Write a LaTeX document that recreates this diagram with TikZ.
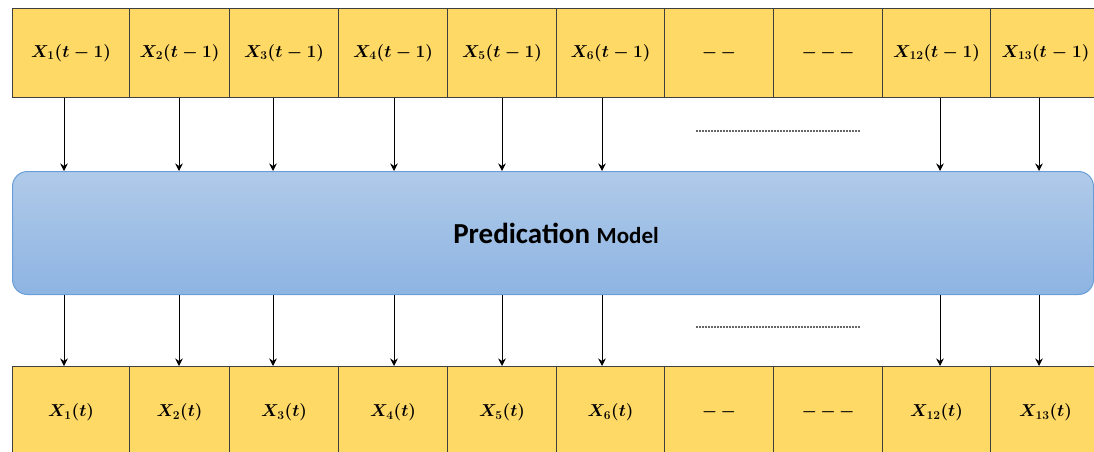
\documentclass[tikz,border=0pt]{standalone}
\usepackage{fontspec}
\newfontfamily\carlito{Carlito}
\usetikzlibrary{arrows.meta,calc}
\definecolor{cellfill}{HTML}{FFD966}
\definecolor{cellline}{HTML}{3F3F3F}
\definecolor{boxtop}{HTML}{B0CAE9}
\definecolor{boxbot}{HTML}{8DB4E2}
\definecolor{boxline}{HTML}{6A9ED8}
\tikzset{
  cell/.style={draw=cellline, line width=1.1pt, fill=cellfill, inner sep=0pt, anchor=north west,
     font=\fontsize{17.5}{20}\selectfont\boldmath},
  arr/.style={draw=black, line width=0.9pt, -{Stealth[length=7.5pt,width=7.5pt]}},
  model/.style={draw=boxline, line width=1pt, rounded corners=15pt, top color=boxtop, bottom color=boxbot,
     inner sep=0pt, anchor=north west},
  dotline/.style={draw=black!60, line width=1.5pt, dash pattern=on 2pt off 1pt},
}
\newcommand{\dd}{{-}\,{-}}
\newcommand{\ddd}{{-}\,{-}\,{-}}
\begin{document}
\begin{tikzpicture}[x=1pt,y=-1pt]
\useasboundingbox (0,0) rectangle (1094,452);
\clip (0,0) rectangle (1094,452);
% top row
\node[cell, minimum width=117pt, minimum height=89pt] (t1) at (12,8) {$X_1(t-1)$};
\node[cell, minimum width=100pt, minimum height=89pt] (t2) at (129,8) {$X_2(t-1)$};
\node[cell, minimum width=109pt, minimum height=89pt] (t3) at (229,8) {$X_3(t-1)$};
\node[cell, minimum width=109pt, minimum height=89pt] (t4) at (338,8) {$X_4(t-1)$};
\node[cell, minimum width=109pt, minimum height=89pt] (t5) at (447,8) {$X_5(t-1)$};
\node[cell, minimum width=108pt, minimum height=89pt] (t6) at (556,8) {$X_6(t-1)$};
\node[cell, minimum width=109pt, minimum height=89pt] (t7) at (664,8) {$\dd$};
\node[cell, minimum width=109pt, minimum height=89pt] (t8) at (773,8) {$\ddd$};
\node[cell, minimum width=108pt, minimum height=89pt] (t9) at (882,8) {$X_{12}(t-1)$};
\node[cell, minimum width=110pt, minimum height=89pt, text width=104pt, align=center] (t10) at (990,8) {$X_{13}(t-1)$\hspace*{-6pt}};
% bottom row
\node[cell, minimum width=117pt, minimum height=92pt] (b1) at (12,366) {$X_1(t)$};
\node[cell, minimum width=100pt, minimum height=92pt] (b2) at (129,366) {$X_2(t)$};
\node[cell, minimum width=109pt, minimum height=92pt] (b3) at (229,366) {$X_3(t)$};
\node[cell, minimum width=109pt, minimum height=92pt] (b4) at (338,366) {$X_4(t)$};
\node[cell, minimum width=109pt, minimum height=92pt] (b5) at (447,366) {$X_5(t)$};
\node[cell, minimum width=108pt, minimum height=92pt] (b6) at (556,366) {$X_6(t)$};
\node[cell, minimum width=109pt, minimum height=92pt] (b7) at (664,366) {$\dd$};
\node[cell, minimum width=109pt, minimum height=92pt] (b8) at (773,366) {$\ddd$};
\node[cell, minimum width=108pt, minimum height=92pt] (b9) at (882,366) {$X_{12}(t)$};
\node[cell, minimum width=110pt, minimum height=92pt, text width=104pt, align=center] (b10) at (990,366) {$X_{13}(t)$\hspace*{-6pt}};
% model
\node[model, minimum width=1081pt, minimum height=123pt] (m) at (12,171) {};
\node[font=\carlito\bfseries] (mt) at (556,233) {\fontsize{29}{31}\selectfont Predication \fontsize{23}{25}\selectfont Model};
% arrow x positions
\coordinate (a1) at (64,0);
\coordinate (a2) at (179,0);
\coordinate (a3) at (273,0);
\coordinate (a4) at (394,0);
\coordinate (a5) at (502,0);
\coordinate (a6) at (602,0);
\coordinate (a9) at (940,0);
\coordinate (a10) at (1039,0);
\foreach \i in {1,2,3,4,5,6,9,10}{
  \draw[arr] (t\i.south -| a\i) -- (m.north -| a\i);
  \draw[arr] (m.south -| a\i) -- (b\i.north -| a\i);
}
% dotted lines
\coordinate (d1) at (696,131);
\coordinate (d2) at (860,131);
\coordinate (d3) at (696,327);
\coordinate (d4) at (860,327);
\draw[dotline] (d1) -- (d2);
\draw[dotline] (d3) -- (d4);
\end{tikzpicture}
\end{document}
